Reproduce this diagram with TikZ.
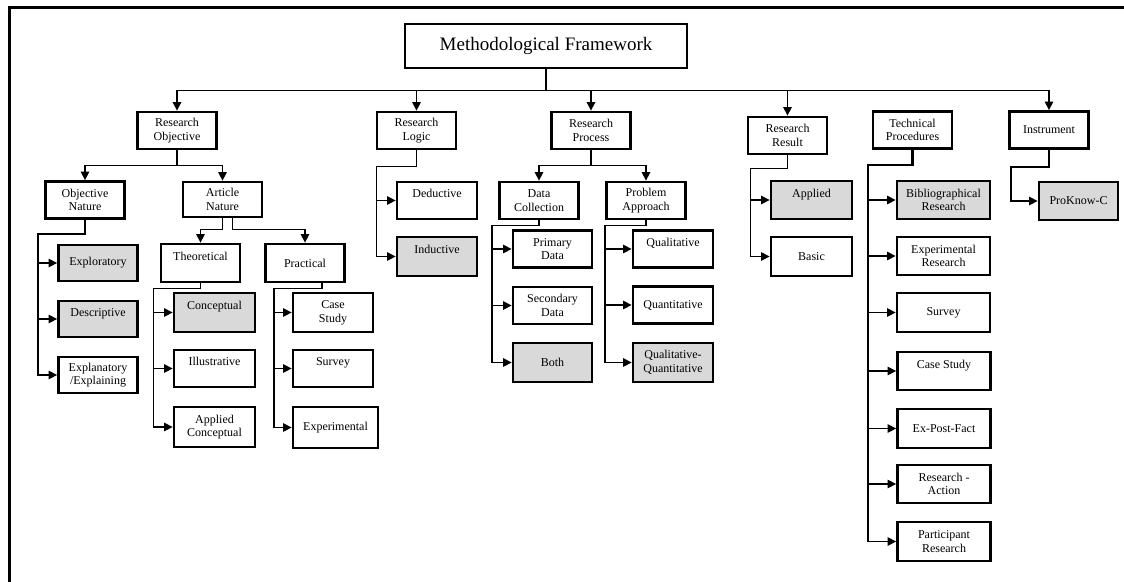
\documentclass[tikz,border=0pt]{standalone}
\usepackage{fontspec}
\setmainfont{Liberation Serif}
\usetikzlibrary{arrows.meta}

\begin{document}
\begin{tikzpicture}[
  x=1pt, y=-1pt,
  box/.style={draw,line width=2.8pt,minimum width=79pt,minimum height=37pt,inner sep=1pt,align=center,font=\fontsize{12}{13.7}\selectfont},
  sbox/.style={box,fill=gray!30},
  wbox/.style={minimum width=93pt},
  link/.style={line width=1.4pt},
  arr/.style={link,-{Triangle[length=8.5pt,width=8.5pt]}},
  trunk/.style={line width=2.2pt}
]
  \useasboundingbox (0,0) rectangle (1124,581);
  \draw[line width=3pt] (1140,7) -| (9,600);

  \node[box,minimum width=282pt,minimum height=44pt,font=\fontsize{19}{22}\selectfont] (title) at (546,46) {Methodological Framework};

  % first level
  \node[box] (ro) at (177,130.5) {Research\\Objective};
  \node[box] (rl) at (416.5,130.5) {Research\\Logic};
  \node[box] (rp) at (591,130.5) {Research\\Process};
  \node[box] (rr) at (787.5,135.5) {Research\\Result};
  \node[box] (tp) at (912.5,130) {Technical\\Procedures};
  \node[box] (ins) at (1049,130) {Instrument};

  % research objective
  \node[box] (on) at (85,200) {Objective\\Nature};
  \node[box,minimum height=35pt] (an) at (222.5,199.5) {Article\\Nature};
  \node[sbox,minimum height=36pt] (exp) at (98,263) {Exploratory};
  \node[sbox,minimum height=36pt] (des) at (98,319) {Descriptive\\~};
  \node[box,minimum height=36pt] (exl) at (98,375) {Explanatory\\/Explaining};
  \node[box,minimum height=38pt] (th) at (200.5,263) {Theoretical\\~};
  \node[box,minimum height=38pt] (pr) at (305,263) {Practical};
  \node[sbox,minimum width=81pt,minimum height=39pt] (con) at (214.5,312.5) {Conceptual\\~};
  \node[box,minimum width=81pt] (ill) at (214.5,368.5) {Illustrative\\~};
  \node[box,minimum width=81pt,minimum height=40pt] (apc) at (214.5,427) {Applied\\Conceptual};
  \node[box,minimum width=80pt,minimum height=39pt] (cs) at (333,312.5) {Case\\Study};
  \node[box,minimum width=80pt] (sv) at (333,368.5) {Survey\\~};
  \node[box,minimum width=85pt,minimum height=41pt] (xp) at (335.5,427.5) {Experimental};

  % research logic
  \node[box,minimum width=80pt] (ded) at (437,200.5) {Deductive\\~};
  \node[sbox,minimum width=80pt,minimum height=39pt] (ind) at (437,256.5) {Inductive\\~};

  % research process
  \node[box] (dc) at (539,200.5) {Data\\Collection};
  \node[box] (pa) at (646,200.5) {Problem\\Approach};
  \node[box] (pd) at (552.5,249) {Primary\\Data};
  \node[box] (sd) at (552.5,305.5) {Secondary\\Data};
  \node[sbox,minimum height=39pt] (bo) at (552.5,362.5) {Both};
  \node[box,minimum width=80pt] (ql) at (673,249) {Qualitative\\~};
  \node[box,minimum width=80pt] (qn) at (673,305) {Quantitative};
  \node[sbox,minimum width=80pt,minimum height=39pt] (qq) at (673,362.5) {Qualitative-\\Quantitative};

  % research result
  \node[sbox,minimum width=81pt,minimum height=38pt] (app) at (811.5,200) {Applied\\~};
  \node[box,minimum width=81pt,minimum height=39pt] (bas) at (811.5,256.5) {Basic};

  % technical procedures
  \node[sbox,wbox,minimum height=38pt] (bib) at (943.5,200) {Bibliographical\\Research};
  \node[box,wbox,minimum height=38pt] (er) at (943.5,256) {Experimental\\Research};
  \node[box,wbox,minimum height=39pt] (su) at (943.5,312.5) {Survey};
  \node[box,wbox,minimum height=38pt] (cst) at (944,371) {Case Study\\~};
  \node[box,wbox,minimum height=39pt] (epf) at (944,428.5) {Ex-Post-Fact};
  \node[box,wbox,minimum height=38pt] (ra) at (944,484) {Research -\\Action};
  \node[box,wbox,minimum height=39pt] (par) at (944,541.5) {Participant\\Research};

  % instrument
  \node[sbox,minimum height=38pt] (pk) at (1078.5,201) {ProKnow-C};

  % connectors
  \foreach \n in {ro,rl,rp,rr,ins}
    \draw[arr] (title.south) -- ++(0,21) -| (\n.north);
  \foreach \n in {on,an}
    \draw[arr] (ro.south) -- ++(0,15) -| (\n.north);
  \draw[arr] (an.south) -- ++(0,11) -| (th.north);
  \draw[arr] ([xshift=10pt]an.south) -- ++(0,11) -| (pr.north);
  \foreach \c in {exp,des,exl}
    \draw[arr] (on.south) -- ++(0,14) -- ++(-47,0) |- (\c.west);
  \foreach \c in {con,ill,apc}
    \draw[arr] (th.south) -- ++(0,5) -- ++(-47,0) |- (\c.west);
  \foreach \c in {cs,sv,xp}
    \draw[arr] ([xshift=17pt]pr.south) -- ++(0,5) -- ++(-48,0) |- (\c.west);
  \foreach \c in {ded,ind}
    \draw[arr] (rl.south) -- ++(0,16) -- ++(-40,0) |- (\c.west);
  \foreach \n in {dc,pa}
    \draw[arr] (rp.south) -- ++(0,15) -| (\n.north);
  \foreach \c in {pd,sd,bo}
    \draw[arr] (dc.south) -- ++(0,5) -- ++(-47,0) |- (\c.west);
  \foreach \c in {ql,qn,qq}
    \draw[arr] (pa.south) -- ++(0,5) -- ++(-41,0) |- (\c.west);
  \foreach \c in {app,bas}
    \draw[arr] (rr.south) -- ++(0,13) -- ++(-37,0) |- (\c.west);
  \draw[trunk] (tp.south) -- ++(0,15) -| ([xshift=-28pt]par.west);
  \foreach \c in {bib,er,su,cst,epf,ra,par}
    \draw[arr] (tp.south) -- ++(0,15) -- ++(-44,0) |- (\c.west);
  \draw[arr] (ins.south) -- ++(0,17) -- ++(-38,0) |- (pk.west);
\end{tikzpicture}
\end{document}
